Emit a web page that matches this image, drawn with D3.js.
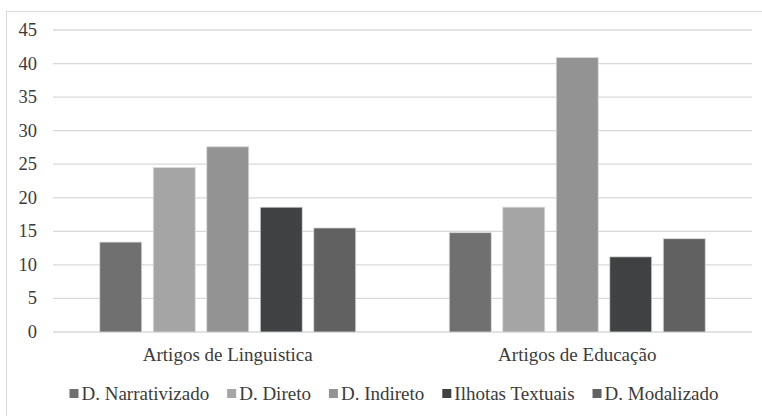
<!DOCTYPE html>
<html>
<head>
<meta charset="utf-8">
<script src="https://cdn.jsdelivr.net/npm/d3@7"></script>
</head>
<body style="margin:0;background:#fff">
<svg id="chart" width="762" height="416"></svg>
<script>
// Categories, series and percentages per category
const categories = ["Artigos de Linguistica", "Artigos de Educação"];
const series = ["D. Narrativizado", "D. Direto", "D. Indireto", "Ilhotas Textuais", "D. Modalizado"];
const linguisticaValues = [13.4, 24.5, 27.6, 18.6, 15.5];
const educacaoValues = [14.8, 18.6, 40.9, 11.2, 13.9];
const yTicks = [0, 5, 10, 15, 20, 25, 30, 35, 40, 45];
const seriesColors = ["#6f706f", "#a5a5a5", "#939393", "#404142", "#616161"];

const FONT = "serif";
const TEXT_COLOR = "#3b3b3b";

const valuesByCategory = [linguisticaValues, educacaoValues];
const rows = categories.map((c, i) => ({
  category: c,
  values: series.map((s, j) => ({ series: s, value: valuesByCategory[i][j] }))
}));

const svg = d3.select("#chart");

// Outer frame
svg.append("rect")
  .attr("x", 6.5).attr("y", 11.5)
  .attr("width", 800).attr("height", 500)
  .attr("fill", "none").attr("stroke", "#d9d9d9").attr("stroke-width", 1);

const plot = { left: 53, right: 752, top: 30, bottom: 332 };

const y = d3.scaleLinear().domain([0, 45]).range([plot.bottom, plot.top]);
const x0 = d3.scaleBand().domain(categories).range([plot.left, plot.right]).padding(0);
const clusterWidth = 267.5;
const x1 = d3.scaleBand().domain(series).range([0, clusterWidth])
  .paddingInner(0.215).paddingOuter(0.1075);
const color = d3.scaleOrdinal().domain(series).range(seriesColors);

// Gridlines drawn from the y scale
svg.append("g").selectAll("line")
  .data(yTicks).join("line")
  .attr("x1", plot.left).attr("x2", plot.right)
  .attr("y1", d => y(d)).attr("y2", d => y(d))
  .attr("stroke", "#d9d9d9").attr("stroke-width", 1.3);

// Y labels
svg.append("g").selectAll("text")
  .data(yTicks).join("text")
  .attr("x", 37)
  .attr("y", d => y(d) + 6)
  .attr("text-anchor", "end")
  .attr("font-size", 18.5)
  .attr("fill", TEXT_COLOR)
  .style("font-family", FONT)
  .text(d => d);

// Bars
const groups = svg.append("g").selectAll("g")
  .data(rows).join("g")
  .attr("transform", d => `translate(${x0(d.category) + (x0.bandwidth() - clusterWidth) / 2},0)`);

groups.selectAll("rect")
  .data(d => d.values).join("rect")
  .attr("x", d => x1(d.series))
  .attr("width", x1.bandwidth())
  .attr("y", d => y(d.value))
  .attr("height", d => y(0) - y(d.value))
  .attr("fill", d => color(d.series))
  .attr("stroke", "#dadada")
  .attr("stroke-width", 0.8);

// Category labels
svg.append("g").selectAll("text")
  .data(categories).join("text")
  .attr("x", d => x0(d) + x0.bandwidth() / 2)
  .attr("y", 361)
  .attr("text-anchor", "middle")
  .attr("font-size", 19)
  .attr("fill", TEXT_COLOR)
  .style("font-family", FONT)
  .text(d => d);

// Legend
const legend = svg.append("g");
const sq = 9, gapText = 3, gapItem = 18;
const items = legend.selectAll("g").data(series).join("g");
items.append("rect")
  .attr("width", sq).attr("height", sq)
  .attr("y", 389)
  .attr("fill", d => color(d));
items.append("text")
  .attr("x", sq + gapText)
  .attr("y", 399.5)
  .attr("font-size", 19)
  .attr("fill", TEXT_COLOR)
  .style("font-family", FONT)
  .text(d => d);

const widths = [];
items.each(function () { widths.push(d3.select(this).select("text").node().getComputedTextLength()); });
const total = d3.sum(widths, w => sq + gapText + w) + gapItem * (series.length - 1);
let cx = 394 - total / 2;
items.attr("transform", (d, i) => {
  const t = `translate(${cx},0)`;
  cx += sq + gapText + widths[i] + gapItem;
  return t;
});
</script>
</body>
</html>
